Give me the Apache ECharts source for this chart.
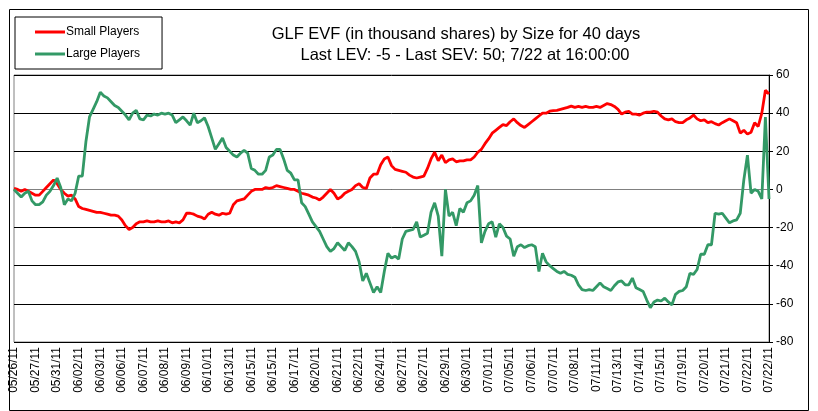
<!DOCTYPE html>
<html>
<head>
<meta charset="utf-8">
<script src="https://cdn.jsdelivr.net/npm/echarts@6/dist/echarts.min.js"></script>
<style>
html,body{margin:0;padding:0;background:#fff;}
#chart{width:818px;height:411px;}
</style>
</head>
<body>
<div id="chart"></div>
<script>
var tickLabels = ["05/26/11","05/27/11","05/31/11","06/02/11","06/03/11","06/06/11","06/07/11","06/08/11","06/09/11","06/10/11","06/13/11","06/15/11","06/15/11","06/17/11","06/20/11","06/21/11","06/22/11","06/24/11","06/27/11","06/27/11","06/29/11","06/30/11","07/01/11","07/05/11","07/06/11","07/07/11","07/08/11","07/11/11","07/13/11","07/14/11","07/15/11","07/19/11","07/20/11","07/21/11","07/22/11","07/22/11"];
var pointsPerTick = 6;
var smallPlayers = [0.5,0,-1,0,-1,-2,-3,-3,-1,1,3,5,3,0,-2,-3.5,-3,-5,-9,-10,-10.5,-11,-11.5,-12,-12,-12.5,-13,-13.5,-13.5,-14,-16,-19,-21,-20,-18,-17,-17,-16.5,-17,-17,-16.5,-17,-17,-16.5,-17.5,-17,-17.5,-16,-12.5,-12.5,-13,-14,-14.5,-15.5,-13,-12,-13,-13.5,-12.5,-13,-12.5,-8,-6,-5.5,-5,-3,-1,0,0,0,1,0.5,1,2,1.5,1,0.5,0,0,-1,-2,-2.5,-3,-4,-4.5,-5.5,-4,-2,0,-2,-5,-4,-2,-1,0,2,3,1,0.5,6,8,8,13,16,17,12.5,10.5,10,9.5,9,7.5,6.5,6,6.5,7,11,16,19.5,15,18,14,15.5,16,14.5,15,15,15.5,15.5,17,19.5,21,24,26.5,29.5,31,32.5,34,33.5,35.5,37,35,33.5,32.5,34,35.5,37,38.5,40,40,41,41.3,41.5,42,42.5,43,43.7,43,43.5,43,43.5,43,43,43.5,43,44,45,44.5,43.5,42,39.5,40.5,41,39.5,39.5,39,40,40.5,40.5,41,40.5,38.5,37,36.5,37,35.5,35,35,36.5,37.5,39,37,36,36.5,35,35.5,34.5,33.8,35,36,37,36,35,29.5,31,29,30,35,33,40,52,50];
var largePlayers = [0,-2,-4,-2,-1,-6,-8,-8,-6.5,-3,-1,2,6,1,-8,-5,-6,-2,7,7,25,38,42,46,51,49,48,46,44,43,41,39,36.5,40,41.5,37,36.5,39,38.5,39.5,39,40,39.5,40,39,35,36.5,38,36,33.7,40,35,36,37.5,33,27,21,24,27,22,20,18,17,19,20.5,19,11,10,8,8,10,17,18,21,21,16,10,8.5,5,5,-7,-9,-13,-17,-19.5,-22,-26,-30,-32.5,-31,-28,-30,-32,-28,-30,-32.5,-38,-48,-44,-49,-54,-51,-54,-43,-33.5,-36,-35,-36.5,-26,-22,-21.5,-21,-17,-25,-24,-23,-12,-7,-14,-35,0,-14,-12,-19,-10,-12,-7,-6,-3,2,-28,-22,-18,-17,-25,-18,-20,-24.5,-26,-35,-30,-29,-30.5,-29.5,-29,-30,-43,-33.5,-38,-40,-41.5,-43,-44,-43,-44.5,-45,-46,-50,-52.5,-53,-52.5,-53,-51,-49,-51,-52,-53,-50.5,-48.5,-48,-50,-50,-46.5,-51.5,-52.5,-53.5,-58,-62,-59,-58,-58.5,-57,-59,-60.5,-55,-53.5,-53,-51,-44,-44.5,-42,-34,-34,-29,-29,-12.5,-13,-12.5,-15,-17.5,-16.5,-16,-12.5,5,18,-2,0,-1,-5,38,-5];
var yTicks = {min: -80, max: 60, step: 20};

var categories = smallPlayers.map(function(_, i){ return String(i); });

var chart = echarts.init(document.getElementById('chart'), null, {renderer: 'canvas'});
var fontFam = "'Liberation Sans', Arial, sans-serif";
chart.setOption({
  animation: false,
  backgroundColor: '#fff',
  graphic: [{
    type: 'rect', left: 7, top: 7, shape: {width: 799, height: 401},
    style: {fill: 'none', stroke: '#000', lineWidth: 1}, silent: true
  }],
  title: [{
    text: 'GLF EVF (in thousand shares) by Size for 40 days',
    left: 451, top: 21, textAlign: 'center',
    textStyle: {fontFamily: fontFam, fontSize: 16.5, fontWeight: 'normal', color: '#000'}
  },{
    text: 'Last LEV: -5 - Last SEV: 50; 7/22 at 16:00:00',
    left: 460, top: 42, textAlign: 'center',
    textStyle: {fontFamily: fontFam, fontSize: 16.5, fontWeight: 'normal', color: '#000'}
  }],
  legend: {
    orient: 'vertical', left: 15, top: 17,
    itemWidth: 30, itemHeight: 3, itemGap: 10, icon: 'rect',
    borderColor: '#000', borderWidth: 1, padding: [9, 22, 9, 20],
    textStyle: {fontFamily: fontFam, fontSize: 12, color: '#000', padding: [0,0,0,-4]},
    data: ['Small Players', 'Large Players']
  },
  grid: {left: 14, right: 49, top: 75, bottom: 69, show: true, borderColor: '#808080', borderWidth: 1},
  xAxis: {
    type: 'category', data: categories, boundaryGap: false,
    axisLine: {show: true, lineStyle: {color: '#808080'}},
    axisTick: {show: false},
    splitLine: {show: false},
    axisLabel: {
      rotate: 90, fontFamily: fontFam, fontSize: 12, color: '#000', margin: 5,
      interval: function(index){ return index % pointsPerTick === 0; },
      formatter: function(v, index){ return index % pointsPerTick === 0 ? tickLabels[index / pointsPerTick] : ''; }
    }
  },
  yAxis: {
    type: 'value', position: 'right', min: yTicks.min, max: yTicks.max, interval: yTicks.step,
    axisLine: {show: true, lineStyle: {color: '#000'}},
    axisTick: {show: true, inside: false, length: 4, lineStyle: {color: '#000'}},
    splitLine: {show: true, lineStyle: {color: '#000', width: 1}},
    axisLabel: {fontFamily: fontFam, fontSize: 12, color: '#000', margin: 7}
  },
  series: [{
    name: 'Small Players', type: 'line', data: smallPlayers, showSymbol: false, symbol: 'none',
    lineStyle: {color: '#FF0000', width: 2.8}, itemStyle: {color: '#FF0000'}
  },{
    name: 'Large Players', type: 'line', data: largePlayers, showSymbol: false, symbol: 'none',
    lineStyle: {color: '#339966', width: 2.8}, itemStyle: {color: '#339966'}
  }]
});
</script>
</body>
</html>
